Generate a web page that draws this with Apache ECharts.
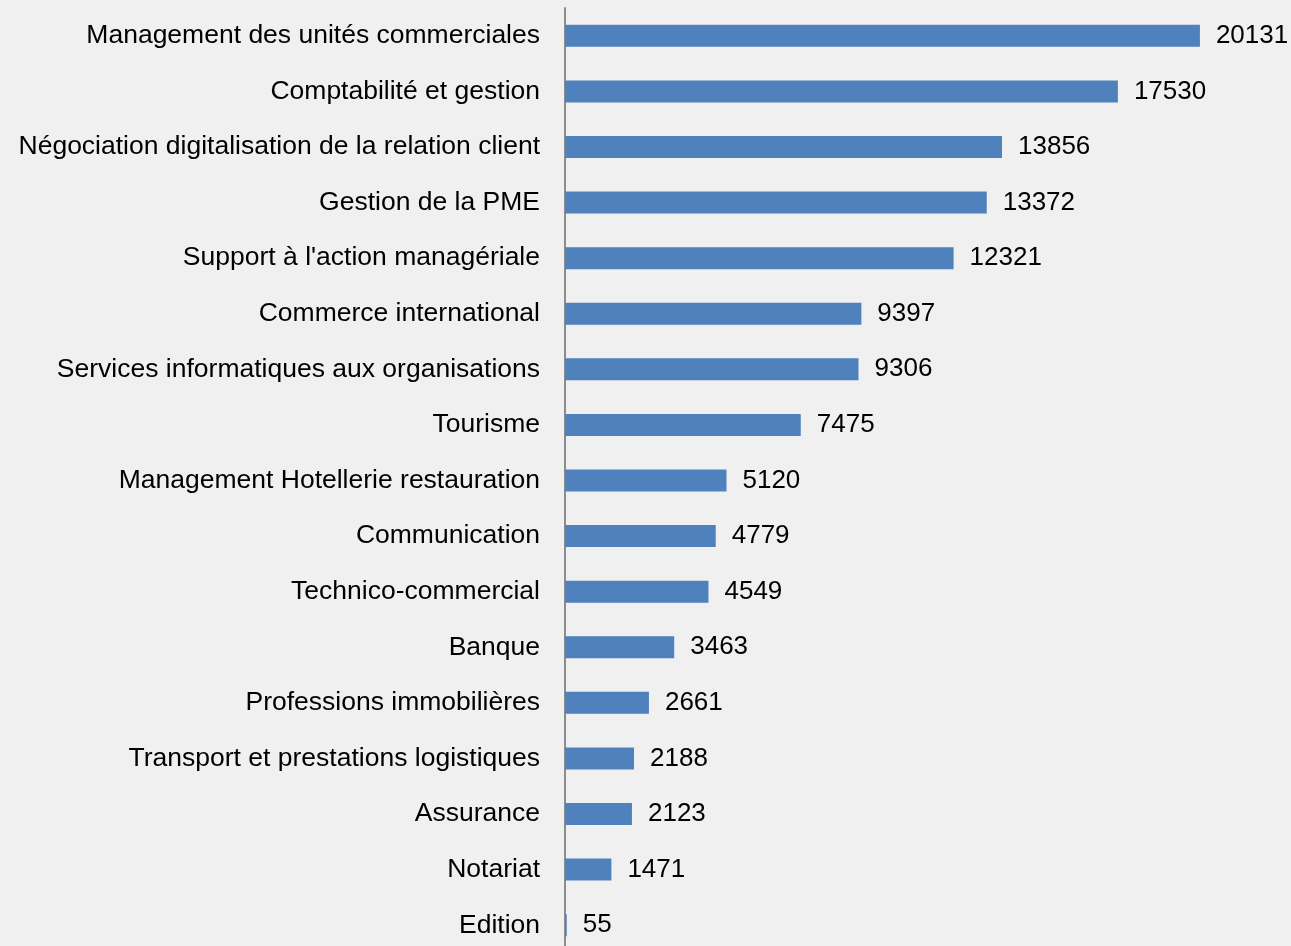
<!DOCTYPE html>
<html><head><meta charset="utf-8">
<script src="https://cdn.jsdelivr.net/npm/echarts@6/dist/echarts.min.js"></script>
<style>html,body{margin:0;padding:0;background:#f0f0f0;overflow:hidden}#c{width:1291px;height:953px}</style>
</head><body><div id="c"></div>
<script>
const categories = ["Management des unités commerciales","Comptabilité et gestion","Négociation digitalisation de la relation client","Gestion de la PME","Support à l'action managériale","Commerce international","Services informatiques aux organisations","Tourisme","Management Hotellerie restauration","Communication","Technico-commercial","Banque","Professions immobilières","Transport et prestations logistiques","Assurance","Notariat","Edition"];
const values = [20131,17530,13856,13372,12321,9397,9306,7475,5120,4779,4549,3463,2661,2188,2123,1471,55];
const chart = echarts.init(document.getElementById('c'));
chart.setOption({
  backgroundColor:'#f0f0f0',
  animation:false,
  grid:{left:565, top:8, right:0.6, bottom:0},
  xAxis:{type:'value', min:0, max:23000, show:false},
  yAxis:{type:'category', data:categories, inverse:true,
    axisLine:{show:true, lineStyle:{color:'#8c8c8c', width:2}},
    axisTick:{show:false},
    axisLabel:{color:'#000', fontFamily:'Liberation Sans, Arial, sans-serif', fontSize:26.5, margin:25}},
  series:[{type:'bar', data:values, barWidth:22,
    itemStyle:{color:'#4f81bd'},
    label:{show:true, position:'right', distance:16, color:'#000', fontFamily:'Liberation Sans, Arial, sans-serif', fontSize:26}}]
});
</script></body></html>
